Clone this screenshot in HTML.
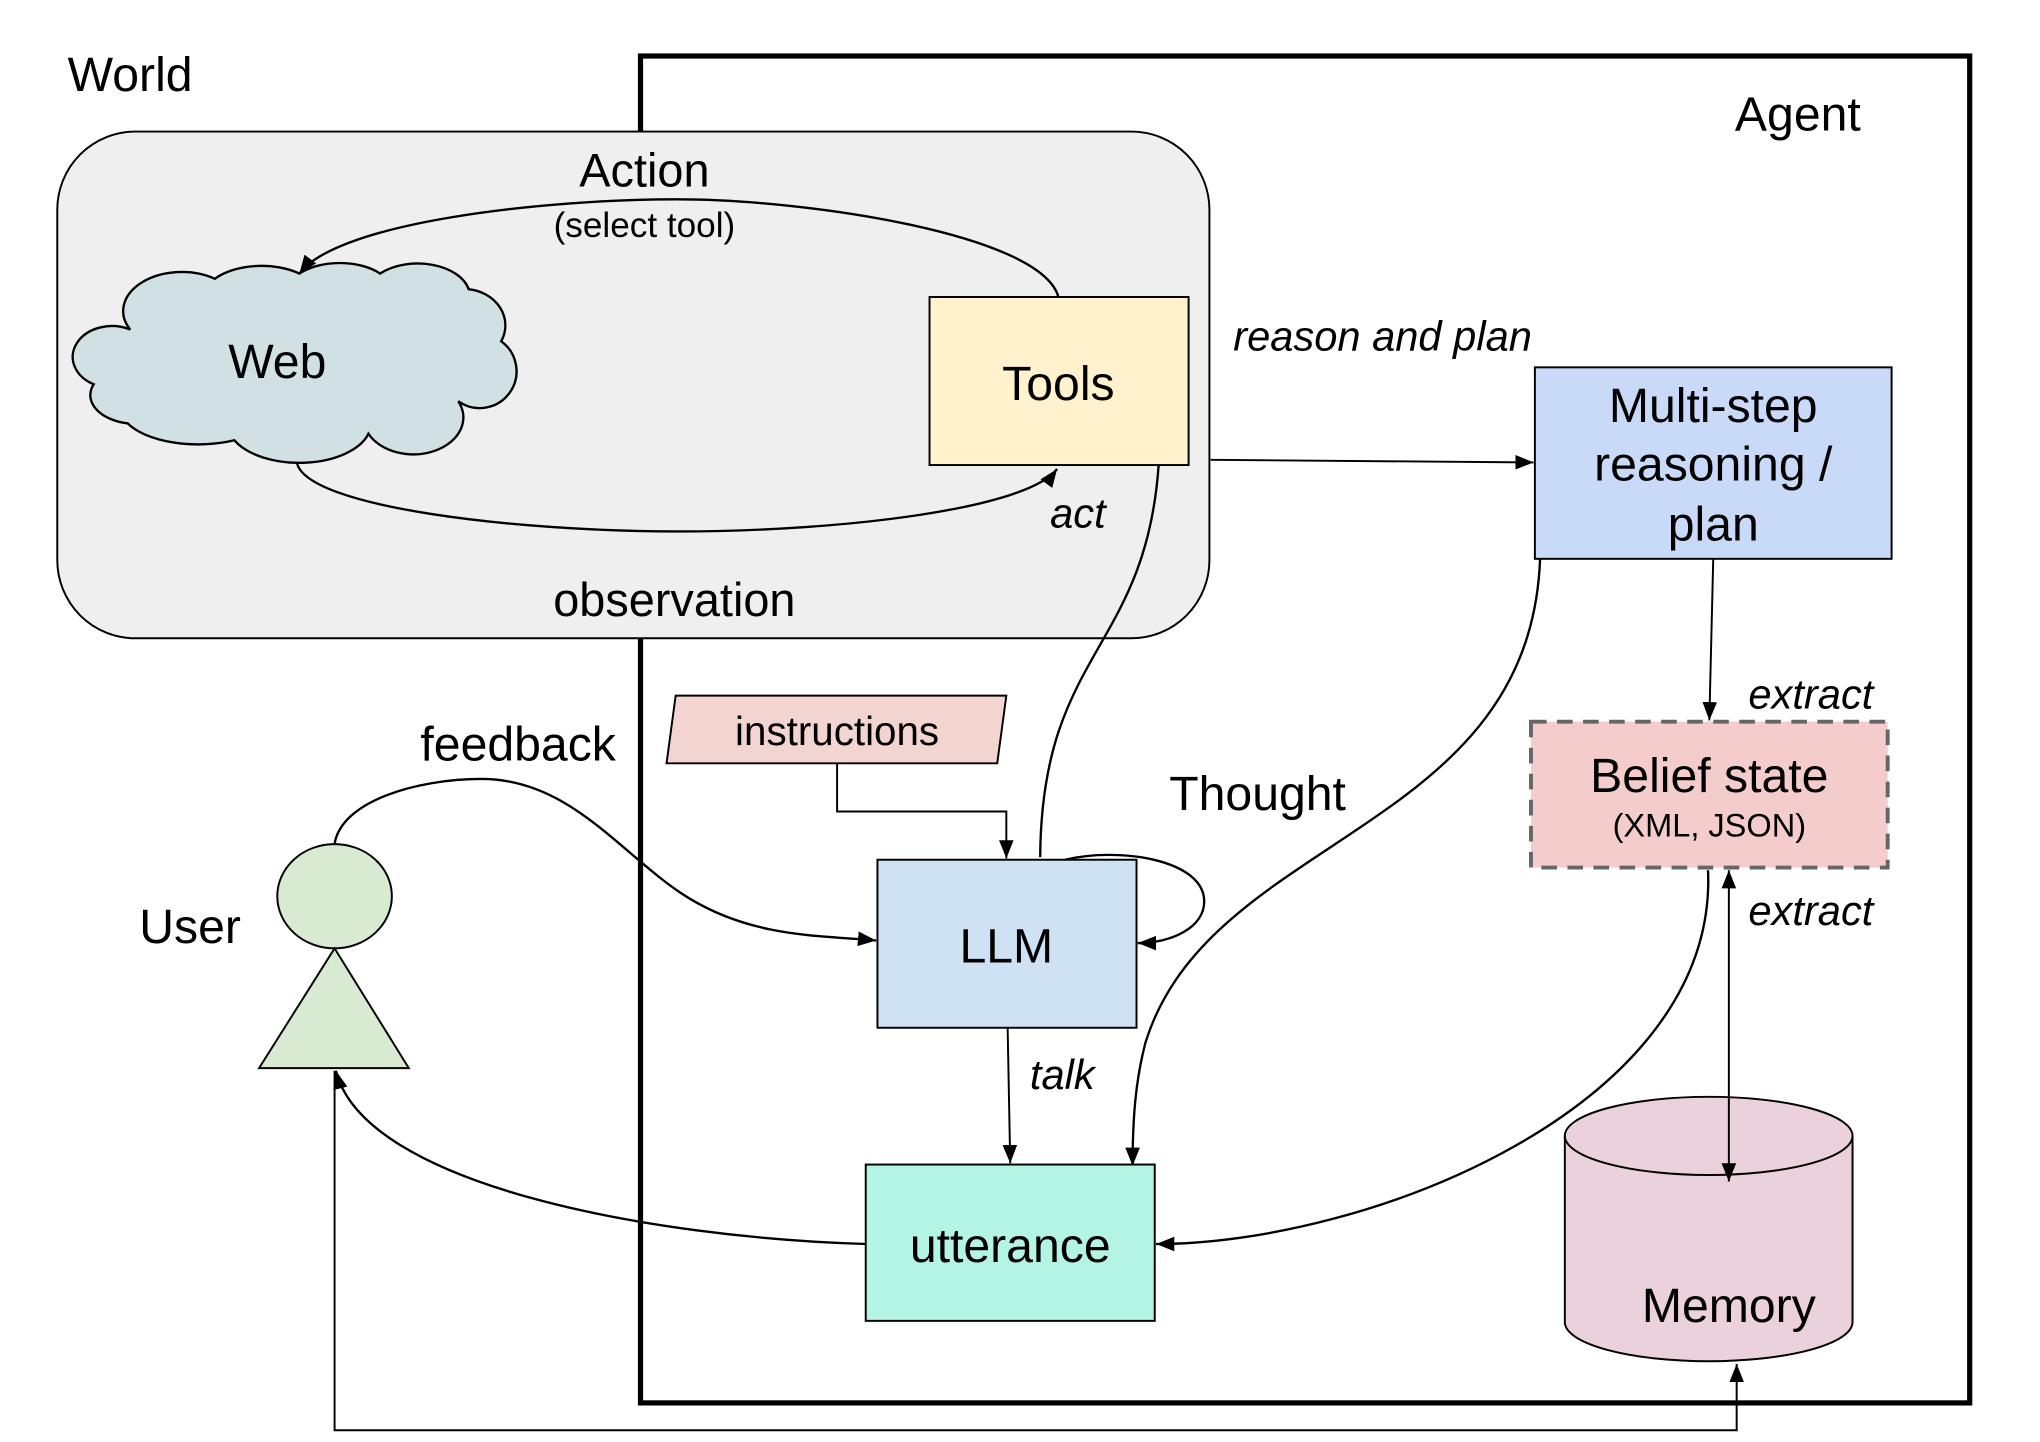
<!DOCTYPE html>
<html><head><meta charset="utf-8"><style>html,body{margin:0;padding:0;background:#fff}svg{display:block}text{font-family:"Liberation Sans",sans-serif;fill:#000}.i{font-style:italic}</style></head>
<body>
<svg width="2040" height="1442" viewBox="0 0 1567 1107" preserveAspectRatio="none" xmlns="http://www.w3.org/2000/svg">
<defs>
<marker id="b" viewBox="0 0 10 10" refX="10" refY="5" markerWidth="14" markerHeight="14" orient="auto-start-reverse" markerUnits="userSpaceOnUse"><path d="M0,1 L10,5 L0,9 z" fill="#000"/></marker>
</defs>
<rect x="492" y="43" width="1021" height="1034" fill="none" stroke="#000" stroke-width="4"/>
<rect x="44" y="101" width="885" height="389" rx="60" fill="#efefef" stroke="#000" stroke-width="1.5"/>
<text x="52" y="70" font-size="37">World</text>
<text x="1381" y="100" font-size="37" text-anchor="middle">Agent</text>
<text x="495" y="143" font-size="36" text-anchor="middle">Action</text>
<text x="495" y="182" font-size="27" text-anchor="middle">(select tool)</text>
<text x="518" y="473" font-size="36" text-anchor="middle">observation</text>
<path d="M100,253 A45,30 0 0 1 165,214 A45,25 0 0 1 230,210 A40,22 0 0 1 292,210 A40,25 0 0 1 360,222 A32,28 0 0 1 385,262 A28,28 0 0 1 352,308 A38,28 0 0 1 283,333 A55,30 0 0 1 180,338 A60,28 0 0 1 98,325 A35,22 0 0 1 72,295 A28,22 0 0 1 100,253 Z" fill="#d0e0e3" stroke="#000" stroke-width="1.8"/>
<text x="213" y="290" font-size="37" text-anchor="middle">Web</text>
<rect x="714" y="228" width="199" height="129" fill="#fff2cc" stroke="#000" stroke-width="1.5"/>
<text x="813" y="307" font-size="37" text-anchor="middle">Tools</text>
<path d="M813,228 C800,180 620,153 520,153 C420,153 260,170 230,210" fill="none" stroke="#000" stroke-width="1.8" marker-end="url(#b)"/>
<path d="M228,355 C235,390 400,408 520,408 C650,408 790,390 812,360" fill="none" stroke="#000" stroke-width="1.8" marker-end="url(#b)"/>
<text x="828" y="405" font-size="32" class="i" text-anchor="middle">act</text>
<text x="1062" y="269" font-size="32" class="i" text-anchor="middle">reason and plan</text>
<path d="M930,353 L1178,355" stroke="#000" stroke-width="1.5" marker-end="url(#b)"/>
<rect x="1179" y="282" width="274" height="147" fill="#c9daf8" stroke="#000" stroke-width="1.5"/>
<text x="1316" y="324" font-size="37" text-anchor="middle">Multi-step</text>
<text x="1316" y="369" font-size="37" text-anchor="middle">reasoning /</text>
<text x="1316" y="415" font-size="37" text-anchor="middle">plan</text>
<path d="M1316,429 L1313,553" stroke="#000" stroke-width="1.5" marker-end="url(#b)"/>
<text x="1391" y="544" font-size="32" class="i" text-anchor="middle">extract</text>
<rect x="1176" y="554" width="274" height="112" fill="#f4cccc" stroke="#666" stroke-width="3" stroke-dasharray="12,8"/>
<text x="1313" y="608" font-size="37" text-anchor="middle">Belief state</text>
<text x="1313" y="642" font-size="25" text-anchor="middle">(XML, JSON)</text>
<text x="1391" y="710" font-size="32" class="i" text-anchor="middle">extract</text>
<path d="M1202,872 L1202,1015 A110.5,30 0 0 0 1423,1015 L1423,872" fill="#ead1dc" stroke="#000" stroke-width="1.5"/>
<ellipse cx="1312.5" cy="872" rx="110.5" ry="30" fill="#ead1dc" stroke="#000" stroke-width="1.5"/>
<text x="1328" y="1015" font-size="37" text-anchor="middle">Memory</text>
<path d="M1328,668 L1328,907" stroke="#000" stroke-width="1.5" marker-start="url(#b)" marker-end="url(#b)"/>
<path d="M1312,668 C1320,850 1050,955 888,955" fill="none" stroke="#000" stroke-width="1.8" marker-end="url(#b)"/>
<path d="M1183,429 C1175,640 930,640 880,800 C872,830 870,860 870,895" fill="none" stroke="#000" stroke-width="1.8" marker-end="url(#b)"/>
<path d="M519,534 L773,534 L766,586 L512,586 Z" fill="#f2d4d0" stroke="#000" stroke-width="1.5"/>
<text x="643" y="572" font-size="31" text-anchor="middle">instructions</text>
<path d="M643,586 L643,623 L773,623 L773,659" fill="none" stroke="#000" stroke-width="1.5" marker-end="url(#b)"/>
<rect x="674" y="660" width="199" height="129" fill="#cfe2f3" stroke="#000" stroke-width="1.5"/>
<text x="773" y="739" font-size="37" text-anchor="middle">LLM</text>
<path d="M818,660 C860,650 925,660 925,692 C925,712 900,724 874,724" fill="none" stroke="#000" stroke-width="1.8" marker-end="url(#b)"/>
<path d="M799,658 C800,500 880,500 890,357" fill="none" stroke="#000" stroke-width="1.8"/>
<text x="966" y="622" font-size="37" text-anchor="middle">Thought</text>
<path d="M774,789 L776,893" stroke="#000" stroke-width="1.5" marker-end="url(#b)"/>
<text x="816" y="836" font-size="32" class="i" text-anchor="middle">talk</text>
<rect x="665" y="894" width="222" height="120" fill="#b4f4e4" stroke="#000" stroke-width="1.5"/>
<text x="776" y="969" font-size="37" text-anchor="middle">utterance</text>
<ellipse cx="257" cy="688" rx="44" ry="40" fill="#d9ead3" stroke="#000" stroke-width="1.5"/>
<path d="M257,728 L199,820 L314,820 Z" fill="#d9ead3" stroke="#000" stroke-width="1.5"/>
<text x="146" y="724" font-size="37" text-anchor="middle">User</text>
<path d="M257,648 C262,615 320,598 370,598 C440,598 480,660 530,690 C580,720 630,718 673,722" fill="none" stroke="#000" stroke-width="1.8" marker-end="url(#b)"/>
<text x="398" y="584" font-size="37" text-anchor="middle">feedback</text>
<path d="M665,955 C500,950 280,910 258,822" fill="none" stroke="#000" stroke-width="1.8" marker-end="url(#b)"/>
<path d="M257,822 L257,1098 L1334,1098 L1334,1047" fill="none" stroke="#000" stroke-width="1.5" marker-end="url(#b)"/>
</svg>
</body></html>
